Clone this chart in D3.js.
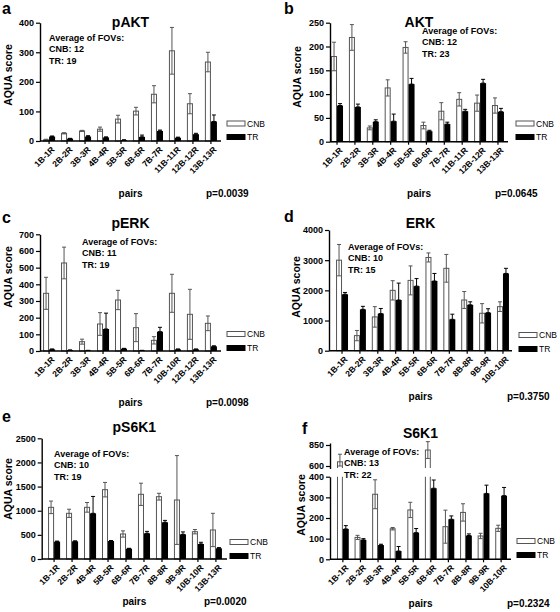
<!DOCTYPE html>
<html><head><meta charset="utf-8">
<script src="https://cdn.jsdelivr.net/npm/d3@7"></script>
<style>
body{margin:0;background:#fff;}
svg{display:block;font-family:"Liberation Sans",Arial,Helvetica,sans-serif;}
</style></head><body>
<svg id="chart" width="560" height="612"></svg>
<script>
// ---------- DATA ----------
const seriesNames = ["CNB", "TR"];

const pAKT_pairs  = ["1B-1R","2B-2R","3B-3R","4B-4R","5B-5R","6B-6R","7B-7R","11B-11R","12B-12R","13B-13R"];
const pAKT_cnb    = [4, 26, 34, 40, 74, 101, 158, 305, 126, 267];
const pAKT_cnbErr = [2, 2, 2, 7, 13, 13, 29, 79, 34, 33];
const pAKT_tr     = [15, 8, 15, 12, 3, 14, 34, 11, 23, 66];
const pAKT_trErr  = [2, 1, 3, 2, 1, 6, 3, 2, 3, 22];
const pAKT_ticks  = [0, 100, 200, 300, 400];

const AKT_pairs  = ["1B-1R","2B-2R","3B-3R","4B-4R","5B-5R","6B-6R","7B-7R","11B-11R","12B-12R","13B-13R"];
const AKT_cnb    = [179, 219, 29, 113, 198, 34, 64, 89, 81, 76];
const AKT_cnbErr = [30, 27, 4, 17, 12, 7, 18, 14, 17, 16];
const AKT_tr     = [76, 73, 42, 43, 121, 22, 37, 64, 123, 63];
const AKT_trErr  = [4, 6, 4, 15, 12, 2, 4, 4, 8, 7];
const AKT_ticks  = [0, 50, 100, 150, 200, 250];

const pERK_pairs  = ["1B-1R","2B-2R","3B-3R","4B-4R","5B-5R","6B-6R","7B-7R","10B-10R","12B-12R","13B-13R"];
const pERK_cnb    = [346, 528, 56, 162, 306, 140, 64, 346, 220, 166];
const pERK_cnbErr = [96, 95, 15, 68, 58, 84, 22, 114, 150, 44];
const pERK_tr     = [10, 5, 3, 132, 14, 3, 116, 10, 10, 28];
const pERK_trErr  = [2, 1, 1, 95, 2, 1, 26, 2, 2, 3];
const pERK_ticks  = [0, 100, 200, 300, 400, 500, 600, 700];

const ERK_pairs  = ["1B-1R","2B-2R","3B-3R","4B-4R","5B-5R","6B-6R","7B-7R","8B-8R","9B-9R","10B-10R"];
const ERK_cnb    = [3000, 500, 1120, 2000, 2330, 3090, 2730, 1680, 1240, 1460];
const ERK_cnbErr = [520, 170, 340, 320, 480, 150, 460, 280, 320, 160];
const ERK_tr     = [1870, 1370, 1230, 1680, 2140, 2310, 1040, 1520, 1260, 2560];
const ERK_trErr  = [60, 100, 170, 560, 250, 250, 170, 100, 130, 170];
const ERK_ticks  = [0, 1000, 2000, 3000, 4000];

const pS6K1_pairs  = ["1B-1R","2B-2R","4B-4R","5B-5R","6B-6R","7B-7R","8B-8R","9B-9R","10B-10R","13B-13R"];
const pS6K1_cnb    = [1070, 946, 1070, 1436, 518, 1340, 1291, 1222, 566, 601];
const pS6K1_cnbErr = [130, 85, 100, 150, 65, 230, 70, 920, 45, 345];
const pS6K1_tr     = [359, 366, 946, 373, 214, 532, 760, 511, 311, 221];
const pS6K1_trErr  = [12, 10, 350, 10, 8, 40, 40, 50, 35, 15];
const pS6K1_ticks  = [0, 500, 1000, 1500, 2000, 2500];

const S6K1_pairs  = ["1B-1R","2B-2R","3B-3R","4B-4R","5B-5R","6B-6R","7B-7R","8B-8R","9B-9R","10B-10R"];
const S6K1_cnb    = [650, 106, 315, 148, 239, 790, 158, 227, 113, 150];
const S6K1_cnbErr = [90, 10, 70, 6, 37, 100, 80, 42, 13, 15];
const S6K1_tr     = [147, 94, 69, 40, 129, 344, 194, 115, 319, 308];
const S6K1_trErr  = [16, 6, 4, 22, 20, 40, 16, 8, 40, 40];
const S6K1_ticksLow = [0, 100, 200, 300, 400];
const S6K1_ticksUp  = [600, 850];

const panelLetters = ["a","b","c","d","e","f"];
const panelTitles  = ["pAKT","AKT","pERK","ERK","pS6K1","S6K1"];
const fovCNB = [12, 12, 11, 10, 10, 13];
const fovTR  = [19, 23, 19, 15, 19, 22];
const pValues = ["p=0.0039","p=0.0645","p=0.0098","p=0.3750","p=0.0020","p=0.2324"];

// ---------- LAYOUT ----------
const panels = [
  {pairs:pAKT_pairs, cnb:pAKT_cnb, cnbErr:pAKT_cnbErr, tr:pAKT_tr, trErr:pAKT_trErr, ticks:pAKT_ticks,
   ax:40, band:[40,220], axEnd:221, y0:141, yTop:22.7,
   letter:[2,14], title:27, fov:[49,41], aqua:[8,75], legend:[227,123.5,137], pairsY:197, pX:206},
  {pairs:AKT_pairs, cnb:AKT_cnb, cnbErr:AKT_cnbErr, tr:AKT_tr, trErr:AKT_trErr, ticks:AKT_ticks,
   ax:330, band:[328,507], axEnd:508, y0:141.7, yTop:22.7,
   letter:[284,14], title:27, fov:[422,34], aqua:[297,77], legend:[516,123.5,137], pairsY:197, pX:495},
  {pairs:pERK_pairs, cnb:pERK_cnb, cnbErr:pERK_cnbErr, tr:pERK_tr, trErr:pERK_trErr, ticks:pERK_ticks,
   ax:40, band:[40,220], axEnd:221, y0:351, yTop:234.3,
   letter:[2,223], title:228, fov:[82,245], aqua:[8,277], legend:[227,334,348], pairsY:406, pX:206},
  {pairs:ERK_pairs, cnb:ERK_cnb, cnbErr:ERK_cnbErr, tr:ERK_tr, trErr:ERK_trErr, ticks:ERK_ticks,
   ax:329, band:[333,512], axEnd:512, y0:350.7, yTop:230,
   letter:[284,222], title:228, fov:[348,250], aqua:[296,287], legend:[519,335,349], pairsY:400, pX:507},
  {pairs:pS6K1_pairs, cnb:pS6K1_cnb, cnbErr:pS6K1_cnbErr, tr:pS6K1_tr, trErr:pS6K1_trErr, ticks:pS6K1_ticks,
   ax:41.7, band:[45,225], axEnd:227, y0:559, yTop:438.3,
   letter:[2,422], title:432, fov:[54,457], aqua:[8,489], legend:[230,542,556], pairsY:605, pX:204},
  {pairs:S6K1_pairs, cnb:S6K1_cnb, cnbErr:S6K1_cnbErr, tr:S6K1_tr, trErr:S6K1_trErr, broken:true,
   ax:330, band:[334,510], axEnd:511, y0:559.3, y400:476.7, y600:466, y850:445,
   letter:[302,434], title:438, fov:[344,455], aqua:[301,505], legend:[517,541,555], pairsY:607, pX:507}
];

const svg = d3.select("#chart");
const CNB_STROKE = "#555";

function styleAxis(g) {
  g.select(".domain").attr("stroke", "#000").attr("stroke-width", 1.4);
  g.selectAll(".tick line").attr("stroke", "#000").attr("stroke-width", 1.2);
  g.selectAll(".tick text").attr("fill", "#000").attr("font-size", 9).attr("font-weight", "bold")
    .attr("font-family", '"Liberation Sans",Arial,sans-serif');
}

function errBar(g, cx, yTopPx, yBotPx, color) {
  g.append("line").attr("x1", cx).attr("x2", cx).attr("y1", yTopPx).attr("y2", yBotPx)
    .attr("stroke", color).attr("stroke-width", 1);
  [yTopPx, yBotPx].forEach(yy => g.append("line").attr("x1", cx - 2).attr("x2", cx + 2)
    .attr("y1", yy).attr("y2", yy).attr("stroke", color).attr("stroke-width", 1));
}

panels.forEach((p, i) => {
  const g = svg.append("g");
  const x = d3.scaleBand().domain(p.pairs).range(p.band).paddingInner(0.33).paddingOuter(0.17);
  const xs = d3.scaleBand().domain(seriesNames).range([0, x.bandwidth()]);
  const rows = p.pairs.map((k, j) => ({k, cnb: p.cnb[j], cnbErr: p.cnbErr[j], tr: p.tr[j], trErr: p.trErr[j]}));

  let yOf; // function value -> px for error bars / bar tops
  if (!p.broken) {
    const y = d3.scaleLinear().domain([0, d3.max(p.ticks)]).range([p.y0, p.yTop]);
    yOf = y;
    // bars
    rows.forEach(r => {
      const bx = x(r.k);
      g.append("rect").attr("x", bx + xs("CNB") + 0.5).attr("y", y(r.cnb))
        .attr("width", xs.bandwidth() - 1).attr("height", y(0) - y(r.cnb))
        .attr("fill", "#fff").attr("stroke", CNB_STROKE).attr("stroke-width", 1);
      errBar(g, bx + xs("CNB") + xs.bandwidth() / 2, y(r.cnb + r.cnbErr), y(Math.max(0, r.cnb - r.cnbErr)), CNB_STROKE);
      g.append("rect").attr("x", bx + xs("TR")).attr("y", y(r.tr))
        .attr("width", xs.bandwidth()).attr("height", y(0) - y(r.tr)).attr("fill", "#000");
      errBar(g, bx + xs("TR") + xs.bandwidth() / 2, y(r.tr + r.trErr), y(r.tr), "#000");
    });
    const ya = g.append("g").attr("transform", `translate(${p.ax},0)`)
      .call(d3.axisLeft(y).tickValues(p.ticks).tickSize(4).tickSizeOuter(0).tickPadding(2).tickFormat(d3.format("d")));
    styleAxis(ya);
  } else {
    const yLow = d3.scaleLinear().domain([0, 400]).range([p.y0, p.y400]);
    const yUp = d3.scaleLinear().domain([600, 850]).range([p.y600, p.y850]);
    const defs = svg.append("defs");
    defs.append("clipPath").attr("id", "clipLow").append("rect")
      .attr("x", p.ax).attr("y", p.y400).attr("width", 200).attr("height", p.y0 - p.y400 + 2);
    defs.append("clipPath").attr("id", "clipUp").append("rect")
      .attr("x", p.ax).attr("y", p.y850 - 15).attr("width", 200).attr("height", p.y600 + 2 - (p.y850 - 15));
    const gl = g.append("g").attr("clip-path", "url(#clipLow)");
    const gu = g.append("g").attr("clip-path", "url(#clipUp)");
    rows.forEach(r => {
      const bx = x(r.k);
      const cxC = bx + xs("CNB") + xs.bandwidth() / 2;
      const cxT = bx + xs("TR") + xs.bandwidth() / 2;
      [["CNB", r.cnb, r.cnbErr], ["TR", r.tr, r.trErr]].forEach(([s, v, e]) => {
        const isC = s === "CNB";
        const top = v > 400 ? Math.min(yLow(v), p.y400 - 20) : yLow(v);
        const rl = gl.append("rect").attr("x", bx + xs(s) + (isC ? 0.5 : 0)).attr("y", top)
          .attr("width", xs.bandwidth() - (isC ? 1 : 0)).attr("height", p.y0 - top)
          .attr("fill", isC ? "#fff" : "#000");
        if (isC) rl.attr("stroke", CNB_STROKE).attr("stroke-width", 1);
        if (v > 600) {
          const ru = gu.append("rect").attr("x", bx + xs(s) + (isC ? 0.5 : 0)).attr("y", yUp(v))
            .attr("width", xs.bandwidth() - (isC ? 1 : 0)).attr("height", p.y600 + 6 - yUp(v))
            .attr("fill", isC ? "#fff" : "#000");
          if (isC) ru.attr("stroke", CNB_STROKE).attr("stroke-width", 1);
          errBar(g, isC ? cxC : cxT, yUp(v + e), isC ? yUp(Math.max(600, v - e)) : yUp(v), isC ? CNB_STROKE : "#000");
        } else {
          errBar(g, isC ? cxC : cxT, yLow(v + e), isC ? yLow(Math.max(0, v - e)) : yLow(v), isC ? CNB_STROKE : "#000");
        }
      });
    });
    const ya1 = g.append("g").attr("transform", `translate(${p.ax},0)`)
      .call(d3.axisLeft(yLow).tickValues(S6K1_ticksLow).tickSize(4).tickSizeOuter(0).tickPadding(2));
    styleAxis(ya1);
    const yUpAxis = yUp.copy().domain([yUp.invert(p.y600 + 2.5), yUp.invert(p.y850 - 2)]).range([p.y600 + 2.5, p.y850 - 2]);
    const ya2 = g.append("g").attr("transform", `translate(${p.ax},0)`)
      .call(d3.axisLeft(yUpAxis).tickValues(S6K1_ticksUp).tickSize(4).tickSizeOuter(0).tickPadding(2));
    styleAxis(ya2);
    yOf = yLow;
  }

  // x axis
  const y0 = p.y0;
  g.append("line").attr("x1", p.ax).attr("x2", p.axEnd).attr("y1", y0).attr("y2", y0)
    .attr("stroke", "#000").attr("stroke-width", 1.4);
  const xa = g.append("g").attr("transform", `translate(0,${y0})`)
    .call(d3.axisBottom(x).tickSize(3).tickSizeOuter(0));
  xa.select(".domain").remove();
  xa.selectAll(".tick line").attr("stroke", "#000").attr("stroke-width", 1.2);
  xa.selectAll(".tick text").attr("x", 0).attr("y", 0).attr("dy", "0.35em")
    .attr("transform", "translate(4,7) rotate(-45)").attr("text-anchor", "end")
    .attr("fill", "#000").attr("font-size", 8.5).attr("font-weight", "bold")
    .attr("font-family", '"Liberation Sans",Arial,sans-serif');

  const cx = (p.ax + p.axEnd) / 2;
  // panel letter
  g.append("text").attr("x", p.letter[0]).attr("y", p.letter[1]).text(panelLetters[i])
    .attr("font-size", 16).attr("font-weight", "bold");
  // title
  g.append("text").attr("x", cx).attr("y", p.title).attr("text-anchor", "middle").text(panelTitles[i])
    .attr("font-size", 14).attr("font-weight", "bold");
  // FOV note
  const fov = g.append("text").attr("font-size", 9).attr("font-weight", "bold");
  ["Average of FOVs:", "CNB: " + fovCNB[i], "TR: " + fovTR[i]].forEach((t, k) =>
    fov.append("tspan").attr("x", p.fov[0]).attr("y", p.fov[1] + k * 11.3).text(t));
  // y label
  g.append("text").attr("transform", `translate(${p.aqua[0] + 4},${p.aqua[1]}) rotate(-90)`)
    .attr("text-anchor", "middle").text("AQUA score").attr("font-size", 10.5).attr("font-weight", "bold");
  // x label and p value
  g.append("text").attr("x", cx).attr("y", p.pairsY).attr("text-anchor", "middle").text("pairs")
    .attr("font-size", 10).attr("font-weight", "bold");
  g.append("text").attr("x", p.pX).attr("y", p.pairsY).text(pValues[i])
    .attr("font-size", 10).attr("font-weight", "bold");
  // legend
  const lg = g.append("g");
  seriesNames.forEach((s, k) => {
    const ly = p.legend[1 + k];
    lg.append("rect").attr("x", p.legend[0]).attr("y", ly - 2.5).attr("width", 18).attr("height", 5)
      .attr("fill", s === "CNB" ? "#fff" : "#000").attr("stroke", s === "CNB" ? CNB_STROKE : "#000").attr("stroke-width", 1);
    lg.append("text").attr("x", p.legend[0] + 20).attr("y", ly + 3).text(s).attr("font-size", 8.5);
  });
});
</script>
</body></html>
